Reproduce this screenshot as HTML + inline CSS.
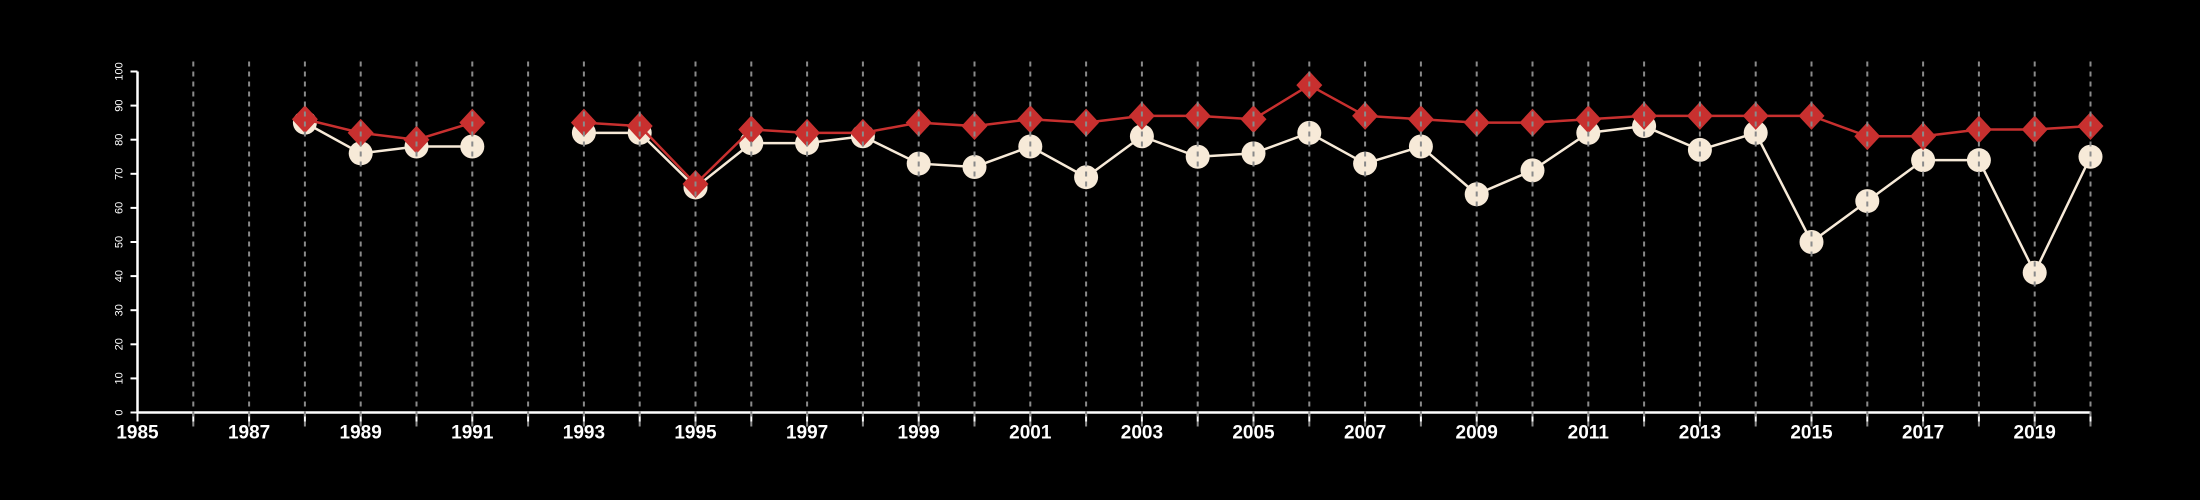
<!DOCTYPE html>
<html><head><meta charset="utf-8"><style>
html,body{margin:0;padding:0;background:#000;}
svg{display:block;font-family:"Liberation Sans",sans-serif;}
</style></head><body>
<svg id="chart" width="2200" height="500" viewBox="0 0 2200 500"></svg>
<script>
const years=[1988,1989,1990,1991,1992,1993,1994,1995,1996,1997,1998,1999,2000,2001,2002,2003,2004,2005,2006,2007,2008,2009,2010,2011,2012,2013,2014,2015,2016,2017,2018,2019,2020];
const whiteSeries=[85,76,78,78,null,82,82,66,79,79,81,73,72,78,69,81,75,76,82,73,78,64,71,82,84,77,82,50,62,74,74,41,75];
const redSeries=[86,82,80,85,null,85,84,67,83,82,82,85,84,86,85,87,87,86,96,87,86,85,85,86,87,87,87,87,81,81,83,83,84];
const yTicks=[0,10,20,30,40,50,60,70,80,90,100];
const xMin=1985,xMax=2020;
const NS="http://www.w3.org/2000/svg";
const svg=document.getElementById('chart');
const X=v=>137.5+(v-xMin)*(2090.5-137.5)/(xMax-xMin);
const Y=v=>412.5-v*3.41;
function mk(t,a,p){const e=document.createElementNS(NS,t);for(const k in a)e.setAttribute(k,a[k]);(p||svg).appendChild(e);return e;}
// axes
let ax=mk('line',{x1:X(xMin),x2:X(xMax),y1:Y(0),y2:Y(0),stroke:'#fff','stroke-width':2.5});


let ay=mk('line',{x1:X(xMin),x2:X(xMin),y1:Y(0),y2:Y(100),stroke:'#fff','stroke-width':2.5});


yTicks.forEach(v=>{
  mk('line',{x1:X(xMin)-7,x2:X(xMin),y1:Y(v),y2:Y(v),stroke:'#fff','stroke-width':2});
  const t=mk('text',{x:0,y:0,fill:'#fff','font-size':11,'text-anchor':'middle',transform:`translate(${X(xMin)-15},${Y(v)}) rotate(-90)`});
  t.textContent=v;
  
  
});
for(let yr=xMin;yr<=xMax;yr++){
  mk('line',{x1:X(yr),x2:X(yr),y1:Y(0),y2:Y(0)+9,stroke:'#fff','stroke-width':2});
  if((yr-xMin)%2===0){
    const t=mk('text',{x:X(yr),y:Y(0)+26,fill:'#fff','font-size':19,'font-weight':'bold','text-anchor':'middle'});
    t.textContent=yr;
    
    
  }
}
function series(vals,color,name,marker){
  const g=mk('g',{});
  
  
  let seg=[];
  const flush=()=>{if(seg.length>1)mk('polyline',{points:seg.join(' '),fill:'none',stroke:color,'stroke-width':2.5},g);seg=[];};
  vals.forEach((v,i)=>{if(v==null){flush();return;}seg.push(X(years[i])+','+Y(v));});
  flush();
  vals.forEach((v,i)=>{
    if(v==null)return;
    const cx=X(years[i]),cy=Y(v);let m;
    if(marker==='circle')m=mk('circle',{cx:cx,cy:cy,r:12,fill:color},g);
    else m=mk('polygon',{points:`${cx},${cy-14} ${cx+13},${cy} ${cx},${cy+14} ${cx-13},${cy}`,fill:color},g);
    
    
  });
}
series(whiteSeries,'#f7ead8','white-series','circle');
series(redSeries,'#c8302f','red-series','diamond');
for(let yr=xMin+1;yr<=xMax;yr++){
  const l=mk('line',{x1:X(yr),x2:X(yr),y1:Y(100)-10,y2:Y(0)+18,stroke:'#8a8a8a','stroke-width':2,'stroke-dasharray':'5,5'});
  
  
}
</script>
</body></html>
